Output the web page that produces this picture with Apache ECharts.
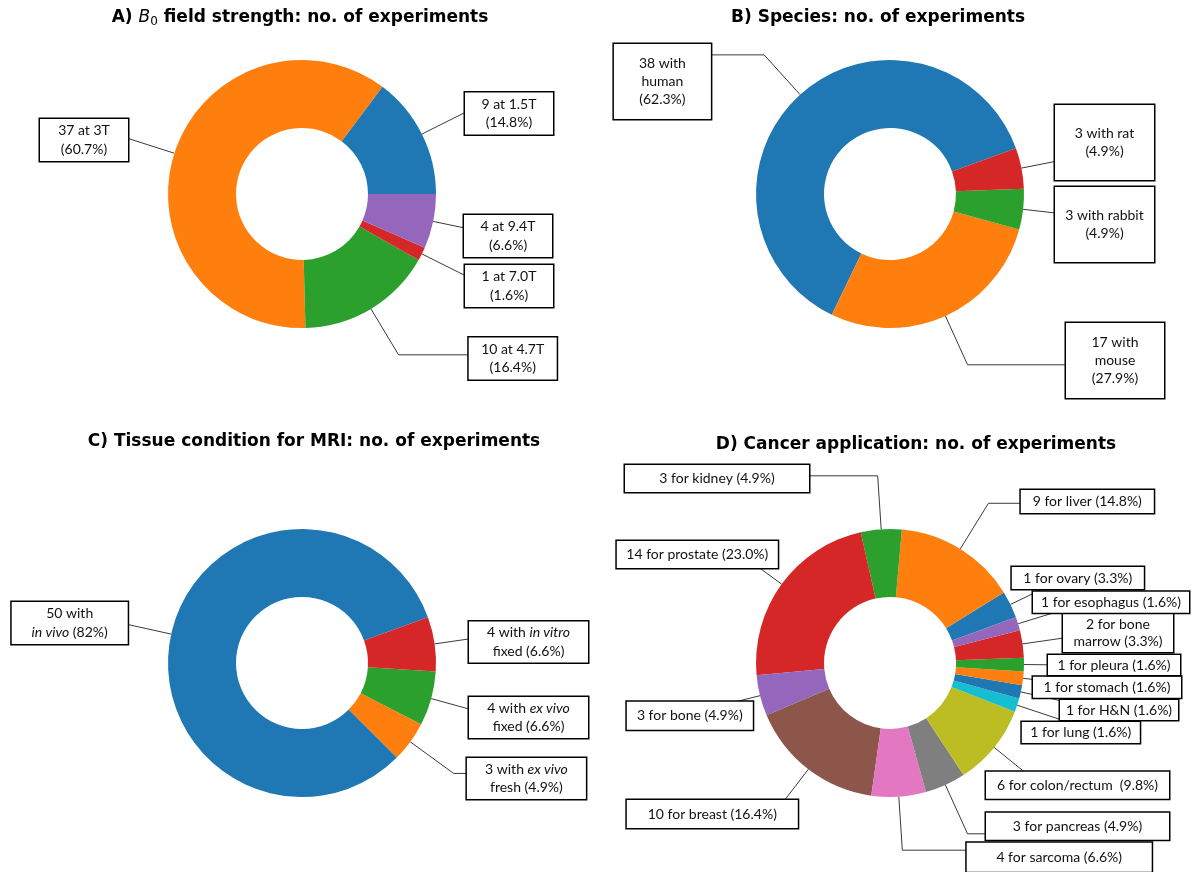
<!DOCTYPE html>
<html>
<head>
<meta charset="utf-8">
<script src="https://cdn.jsdelivr.net/npm/echarts@6/dist/echarts.min.js"></script>
<style>
html,body{margin:0;padding:0;background:#fff;}
#chart{width:1192px;height:872px;}
</style>
</head>
<body>
<div id="chart"></div>
<script>
// ---------- DATA ----------
const fieldNames  = ['1.5T', '3T', '4.7T', '7.0T', '9.4T'];
const fieldCounts = [9, 37, 10, 1, 4];
const fieldLabels = ['9 at 1.5T\n(14.8%)', '37 at 3T\n(60.7%)', '10 at 4.7T\n(16.4%)', '1 at 7.0T\n(1.6%)', '4 at 9.4T\n(6.6%)'];

const speciesNames  = ['human', 'mouse', 'rabbit', 'rat'];
const speciesCounts = [38, 17, 3, 3];
const speciesLabels = ['38 with\nhuman\n(62.3%)', '17 with\nmouse\n(27.9%)', '3 with rabbit\n(4.9%)', '3 with rat\n(4.9%)'];

const tissueNames  = ['in vivo', 'ex vivo fresh', 'ex vivo fixed', 'in vitro fixed'];
const tissueCounts = [50, 3, 4, 4];
const tissueLabels = ['50 with\n{i|in vivo} (82%)', '3 with {i|ex vivo}\nfresh (4.9%)', '4 with {i|ex vivo}\nfixed (6.6%)', '4 with {i|in vitro}\nfixed (6.6%)'];

const cancerNames  = ['ovary', 'liver', 'kidney', 'prostate', 'bone', 'breast', 'sarcoma', 'pancreas', 'colon/rectum', 'lung', 'H&N', 'stomach', 'pleura', 'bone marrow', 'esophagus'];
const cancerCounts = [2, 9, 3, 14, 3, 10, 4, 3, 6, 1, 1, 1, 1, 2, 1];
const cancerLabels = ['1 for ovary (3.3%)', '9 for liver (14.8%)', '3 for kidney (4.9%)', '14 for prostate (23.0%)', '3 for bone (4.9%)', '10 for breast (16.4%)', '4 for sarcoma (6.6%)', '3 for pancreas (4.9%)', '6 for colon/rectum  (9.8%)', '1 for lung (1.6%)', '1 for H&N (1.6%)', '1 for stomach (1.6%)', '1 for pleura (1.6%)', '2 for bone\nmarrow (3.3%)', '1 for esophagus (1.6%)'];

const panelTitles = [
  'A) {it|B}{sub|0} field strength: no. of experiments',
  'B) Species: no. of experiments',
  'C) Tissue condition for MRI: no. of experiments',
  'D) Cancer application: no. of experiments'
];

// ---------- LAYOUT (positions / sizes, kept apart from data) ----------
const palette = ['#1f77b4', '#ff7f0e', '#2ca02c', '#d62728', '#9467bd', '#8c564b', '#e377c2', '#7f7f7f', '#bcbd22', '#17becf'];
const RIN = 66, ROUT = 134;
// boxes: [centerX, centerY, width, height]
const layoutA = { center: [302, 194], start: 0, lh: 18.3,
  boxes: [[509, 113.4, 88, 42], [84, 140, 88, 42], [512.7, 358.5, 88, 42], [509, 286, 88, 42], [508, 236, 88, 42]] };
const layoutB = { center: [890, 194], start: 20, lh: 18.3,
  boxes: [[662.4, 81.5, 97, 75], [1115, 360.5, 98, 75], [1104.5, 224.5, 99, 75], [1104.5, 142.5, 99, 75]] };
const layoutC = { center: [302, 663], start: 20, lh: 18.3,
  boxes: [[69.7, 623, 116, 42], [526.4, 778.4, 119, 41], [528.5, 717.5, 119, 41], [528.5, 642, 119, 41]] };
const layoutD = { center: [890, 663], start: 20, lh: 17,
  boxes: [[1077.8, 578, 132, 22], [1087.3, 501.5, 133, 23], [717, 478.5, 184, 27], [697.3, 554.5, 161, 27],
          [689.8, 715.8, 126, 28], [712.3, 814, 171, 28], [1059.2, 857.3, 185, 29], [1077.5, 826.3, 183, 27],
          [1077.5, 785.3, 183, 27], [1080.8, 732.5, 118, 21], [1119, 710, 118, 20], [1107, 687.2, 148, 21],
          [1114, 665, 132, 20], [1118, 633, 110, 38], [1111, 602.3, 156, 21]] };
const titlePos = [[300, 8], [878, 8], [314, 432], [916, 435]];

// ---------- helpers ----------
function enterRect(a, b, r) {
  let t0 = 0, t1 = 1;
  const dx = b[0] - a[0], dy = b[1] - a[1];
  const p = [-dx, dx, -dy, dy];
  const q = [a[0] - r.x0, r.x1 - a[0], a[1] - r.y0, r.y1 - a[1]];
  for (let i = 0; i < 4; i++) {
    if (p[i] === 0) { if (q[i] < 0) return null; }
    else {
      const t = q[i] / p[i];
      if (p[i] < 0) { if (t > t1) return null; if (t > t0) t0 = t; }
      else { if (t < t0) return null; if (t < t1) t1 = t; }
    }
  }
  return [a[0] + t0 * dx, a[1] + t0 * dy];
}
function guide(p0, c, b) {
  const k = 1.4;
  const corner = [c[0] + k * (p0[0] - c[0]), c[1] + k * (p0[1] - c[1])];
  const end = [b[0], corner[1]];
  const r = { x0: b[0] - b[2] / 2, x1: b[0] + b[2] / 2, y0: b[1] - b[3] / 2, y1: b[1] + b[3] / 2 };
  let hit = enterRect(p0, corner, r);
  if (hit) return [p0, hit];
  hit = enterRect(corner, end, r);
  if (hit) return [p0, corner, hit];
  return [p0, corner, end];
}
function makeLayout(L) {
  return function (params) {
    const b = L.boxes[params.dataIndex];
    const pts = params.labelLinePoints;
    const p0 = pts && pts[0];
    const out = { x: b[0], y: b[1], align: 'center', verticalAlign: 'middle' };
    if (p0) out.labelLinePoints = guide(p0, L.center, b);
    return out;
  };
}
const labelFont = 'Lato';
function donut(names, counts, labels, L) {
  return {
    type: 'pie',
    center: L.center,
    radius: [RIN, ROUT],
    startAngle: L.start,
    clockwise: false,
    avoidLabelOverlap: false,
    silent: true,
    animation: false,
    emphasis: { disabled: true },
    itemStyle: { borderWidth: 0 },
    label: {
      show: true, position: 'outside',
      color: '#111', fontFamily: labelFont, fontSize: 14, lineHeight: L.lh,
      align: 'center', backgroundColor: '#fff', borderColor: '#000', borderWidth: 1.5,
      rich: { i: { fontFamily: labelFont, fontSize: 14, fontStyle: 'italic', color: '#111', align: 'center', lineHeight: L.lh } }
    },
    labelLine: { show: true, length: 5, length2: 5, lineStyle: { color: '#3a3a3a', width: 1 } },
    labelLayout: makeLayout(L),
    data: names.map(function (n, i) {
      const b = L.boxes[i];
      const nLines = labels[i].split('\n').length;
      const pv = Math.max(0, (b[3] - nLines * L.lh) / 2);
      return { name: n, value: counts[i],
        itemStyle: { color: palette[i % palette.length] },
        label: { formatter: labels[i], width: b[2], padding: [pv, 0, pv, 0] } };
    })
  };
}

const titleStyle = {
  fontFamily: 'DejaVu Sans', fontWeight: 'bold', fontSize: 17, color: '#000', lineHeight: 20,
  rich: {
    it: { fontFamily: 'DejaVu Sans', fontStyle: 'italic', fontWeight: 'normal', fontSize: 17, color: '#000', lineHeight: 20 },
    sub: { fontFamily: 'DejaVu Sans', fontWeight: 'normal', fontSize: 12, color: '#000', verticalAlign: 'bottom', lineHeight: 8 }
  }
};

const chart = echarts.init(document.getElementById('chart'), null, { renderer: 'canvas' });
chart.setOption({
  backgroundColor: '#fff',
  animation: false,
  title: panelTitles.map(function (t, i) {
    return { text: t, left: titlePos[i][0], top: titlePos[i][1], textAlign: 'center', padding: 0, textStyle: titleStyle };
  }),
  series: [
    donut(fieldNames, fieldCounts, fieldLabels, layoutA),
    donut(speciesNames, speciesCounts, speciesLabels, layoutB),
    donut(tissueNames, tissueCounts, tissueLabels, layoutC),
    donut(cancerNames, cancerCounts, cancerLabels, layoutD)
  ]
});
</script>
</body>
</html>
